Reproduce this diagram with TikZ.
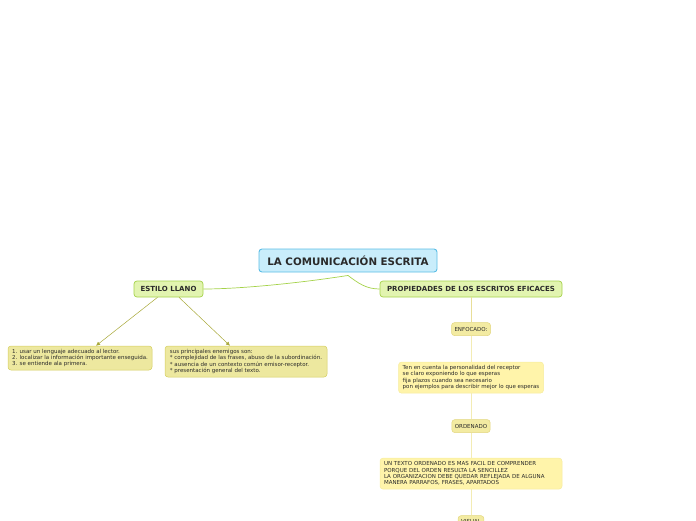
\documentclass[tikz,border=0pt]{standalone}
\usepackage{fontspec}
\setmainfont{DejaVu Sans}
\usetikzlibrary{arrows.meta,calc,positioning}

\definecolor{titlefill}{HTML}{C9EDFB}
\definecolor{titleline}{HTML}{5BBDE6}
\definecolor{branchfill}{HTML}{E2F4B0}
\definecolor{branchline}{HTML}{A5D24A}
\definecolor{leaffill}{HTML}{EDE89F}
\definecolor{leafline}{HTML}{D4CE5E}
\definecolor{notefill}{HTML}{FFF4AA}
\definecolor{noteline}{HTML}{F6EC9E}
\definecolor{tagfill}{HTML}{F3EBA2}
\definecolor{tagline}{HTML}{E2D67E}
\definecolor{olive}{HTML}{A8A838}
\definecolor{paleline}{HTML}{F3ECB4}
\definecolor{inktext}{HTML}{2A2A2A}

\begin{document}
\begin{tikzpicture}[
    x=1pt, y=-1pt,
    font=\fontsize{5.5}{6.3}\selectfont,
    box/.style={draw, rounded corners=3pt, align=left, inner xsep=4pt,
        inner ysep=0pt, text=inktext},
    topic/.style={box, fill=titlefill, draw=titleline, line width=0.9pt,
        font=\fontsize{10.3}{12}\selectfont\bfseries, minimum width=178pt,
        minimum height=23pt, align=center},
    branch/.style={box, fill=branchfill, draw=branchline, line width=0.7pt,
        font=\fontsize{7}{8}\selectfont\bfseries, minimum height=16pt,
        align=center},
    leaf/.style={box, fill=leaffill, draw=leafline, line width=0.5pt},
    tag/.style={box, fill=tagfill, draw=tagline, line width=0.5pt,
        minimum height=13pt, inner xsep=3pt, align=center},
    note/.style={box, fill=notefill, draw=noteline, line width=0.5pt},
    link/.style={branchline, line width=0.7pt},
    arrow/.style={-{Latex[length=4pt,width=4pt]}, olive, line width=0.5pt},
    chain/.style={paleline, line width=0.6pt}
]
\useasboundingbox (0,0) rectangle (696,520);

\node[topic] (title) at (348,260.5) {LA COMUNICACIÓN ESCRITA};
\coordinate (hub) at ($(title.south)+(0,3)$);

\node[branch, minimum width=69pt] (estilo) at (168.5,289) {ESTILO LLANO};
\node[branch, minimum width=182pt] (props) at (471,289)
    {PROPIEDADES DE LOS ESCRITOS EFICACES};

\node[leaf, minimum width=144pt, minimum height=24pt] (rules) at (80,358)
    {1. usar un lenguaje adecuado al lector.\\
     2. localizar la información importante enseguida.\\
     3. se entiende ala primera.};
\node[leaf, minimum width=162pt, minimum height=31pt] (enemies) at (246,361.5)
    {sus principales enemigos son:\\
     * complejidad de las frases, abuso de la subordinación.\\
     * ausencia de un contexto común emisor-receptor.\\
     * presentación general del texto.};

\node[tag, below=25pt of props] (enfocado) {ENFOCADO:};
\node[note, below=26pt of enfocado, minimum width=145pt, minimum height=31pt] (enfnote)
    {Ten en cuenta la personalidad del receptor\\
     se claro exponiendo lo que esperas\\
     fija plazos cuando sea necesario\\
     pon ejemplos para describir mejor lo que esperas};
\node[tag, below=26pt of enfnote] (ordenado) {ORDENADO};
\node[note, below=25pt of ordenado, text width=174pt, minimum height=31pt] (ordnote)
    {UN TEXTO ORDENADO ES MAS FACIL DE COMPRENDER\\
     PORQUE DEL ORDEN RESULTA LA SENCILLEZ\\
     LA ORGANIZACION DEBE QUEDAR REFLEJADA DE ALGUNA\\
     MANERA PARRAFOS, FRASES, APARTADOS};
\node[tag, below=26pt of ordnote, minimum height=12pt] (visual) {VISUAL};

\draw[link] (hub) .. controls (300,283) and (240,289) .. (estilo.east);
\draw[link] (hub) .. controls (358,283) and (366,289) .. (props.west);

\draw[arrow] ([xshift=-11pt]estilo.south) -- ([xshift=16pt]rules.north);
\draw[arrow] ([xshift=10.5pt]estilo.south) -- ([xshift=-16pt]enemies.north);

\draw[chain, draw=tagline!80] (props.south) -- (enfocado.north);
\draw[chain] (enfocado.south) -- (enfnote.north);
\draw[chain] (enfnote.south) -- (ordenado.north);
\draw[chain] (ordenado.south) -- (ordnote.north);
\draw[chain] (ordnote.south) -- (visual.north);

\end{tikzpicture}
\end{document}
